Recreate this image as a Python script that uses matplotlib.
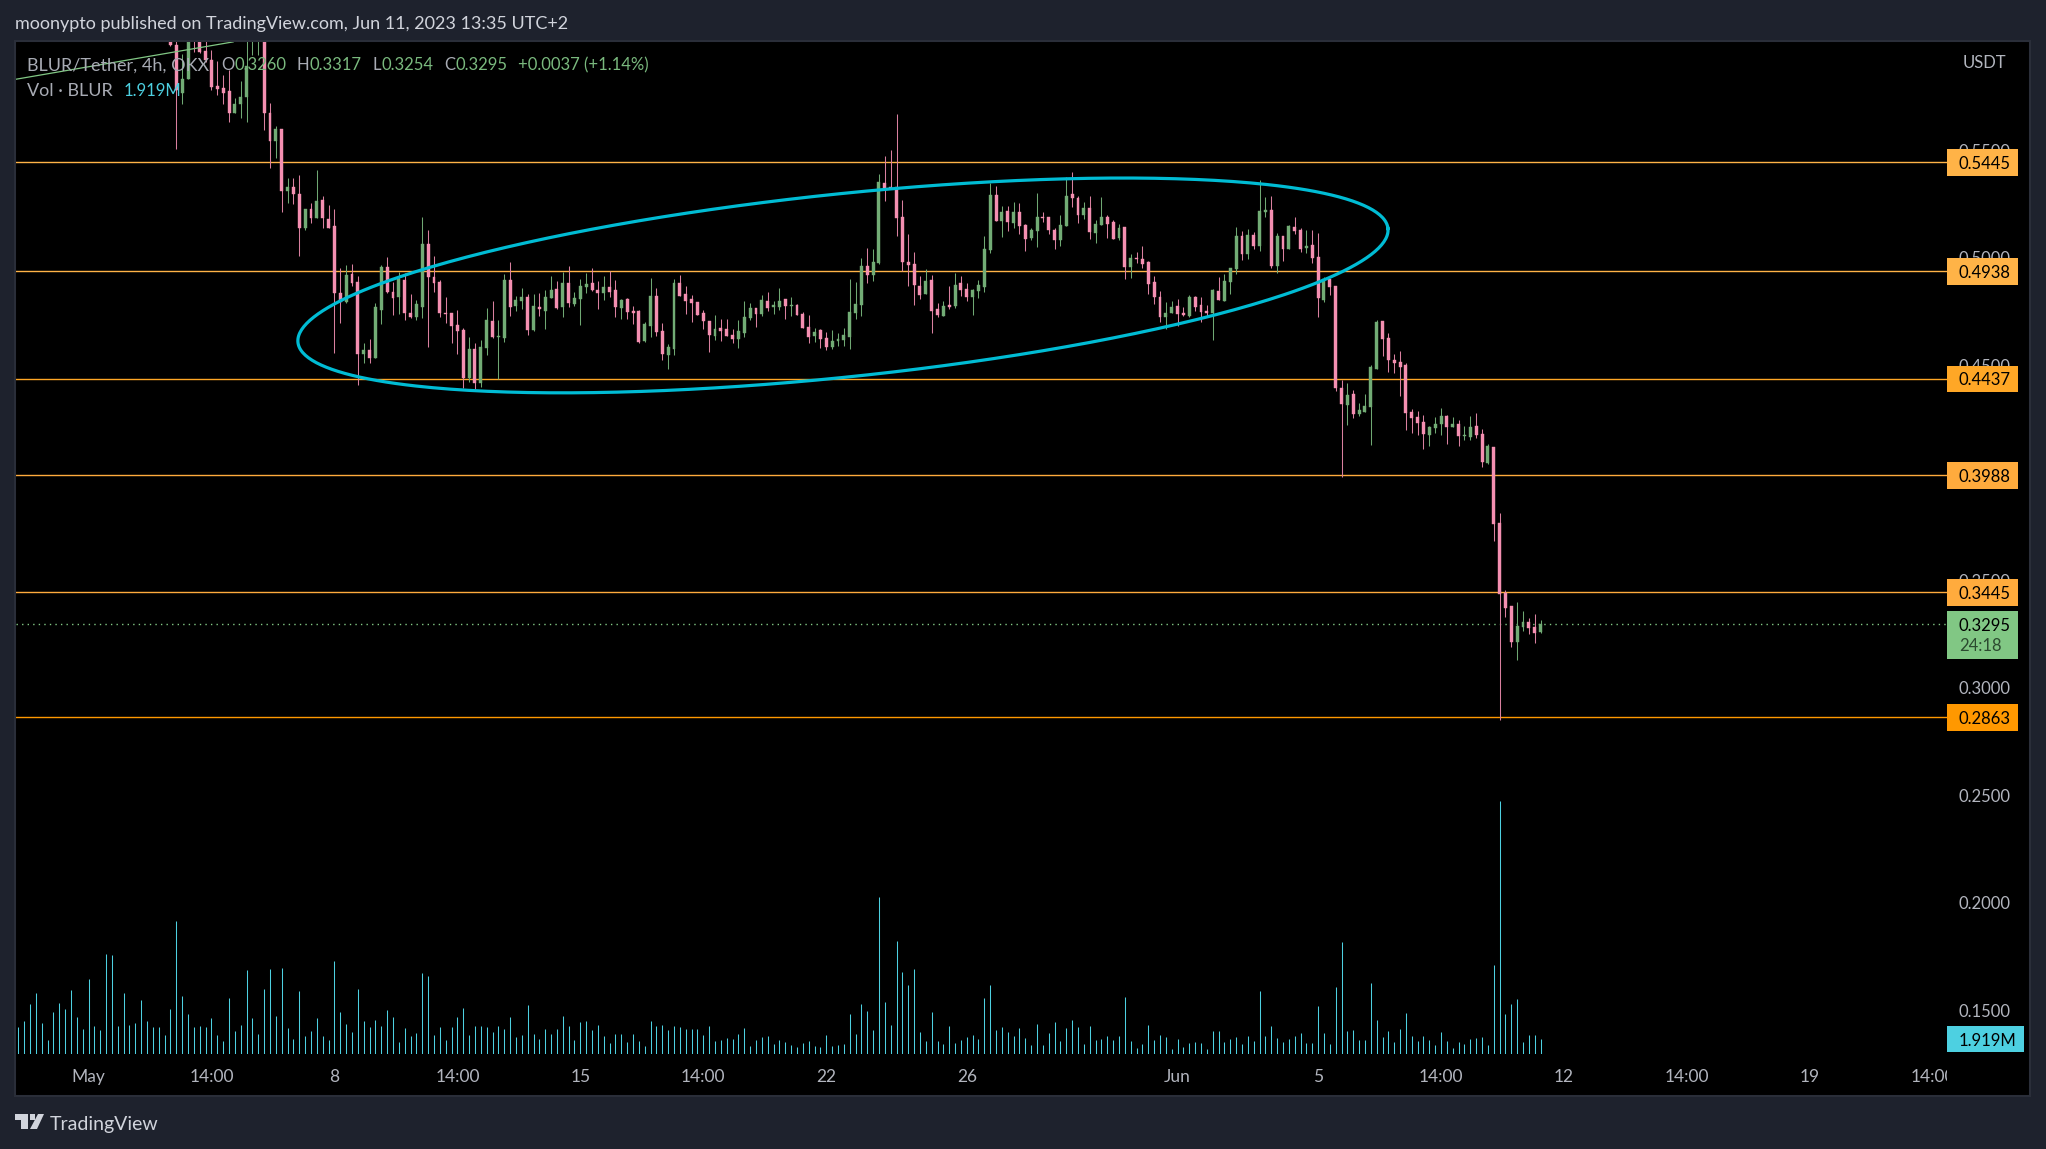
import numpy as np
import matplotlib
matplotlib.use('Agg')
import matplotlib.pyplot as plt
from matplotlib.patches import Rectangle, Polygon

# candles only start at bar 26, everything before sits above the visible range
candle_start = 26
opens = [
 .6100,.5989,.5769,.5831,.6080,.6030,.5962,.5920,.5800,.5791,
 .5776,.5672,.5714,.5749,.6020,.6030,.6040,.5675,.5545,.5599,
 .5312,.5331,.5297,.5140,.5227,.5184,.5270,.5182,.5149,.4838,
 .4796,.4926,.4889,.4551,.4573,.4536,.4759,.4959,.4843,.4819,
 .4898,.4742,.4726,.4773,.5066,.4912,.4889,.4745,.4745,.4689,
 .4666,
 .4442,.4577,.4419,.4582,.4707,.4633,.4628,.4898,.4777,.4800,
 .4819,.4666,.4772,.4754,.4814,.4856,.4772,.4884,.4786,.4810,
 .4865,.4884,.4851,.4838,.4865,.4851,.4768,.4810,.4754,.4754,
 .4614,.4684,.4824,.4661,.4549,.4577,.4884,.4833,.4810,.4796,
 .4745,.4707,.4638,.4675,.4670,.4642,.4624,.4652,.4721,.4768,
 .4740,
 .4800,.4772,.4772,.4810,.4777,.4782,.4740,.4679,.4638,.4665,
 .4628,.4586,.4614,.4619,.4633,.4745,.4782,.4963,.4921,.4977,
 .5349,.5330,.5330,.5191,.4982,.4972,.4870,.4833,.4898,.4763,
 .4731,.4782,.4777,.4884,.4856,.4819,.4847,.4865,.5038,.5293,
 .5172,.5219,.5163,.5214,.5154,.5093,.5126,.5191,.5191,.5131,
 .5084,
 .5149,.5298,.5279,.5200,.5233,.5117,.5154,.5191,.5168,.5093,
 .5144,.4958,.5000,.4996,.4982,.4889,.4819,.4726,.4745,.4777,
 .4745,.4731,.4819,.4782,.4754,.4745,.4847,.4800,.4889,.4949,
 .5103,.5019,.5107,.5056,.5214,.5224,.4963,.5103,.5042,.5144,
 .5131,.5047,.5061,.5005,.4805,.4903,
 .4870,.4396,.4317,.4368,.4275,.4284,.4307,.4484,.4707,.4628,
 .4526,.4517,.4503,.4284,.4261,.4238,.4177,.4210,.4228,.4266,
 .4215,.4228,.4173,.4168,.4219,.4182,.4047,.4121,.3768,.3443,
 .3382,.3215,.3284,.3308,.3284,.3260]
highs = [
 .6150,.6010,.5950,.6120,.6120,.6080,.6015,.5966,.5915,.5850,
 .5873,.5745,.5822,.6040,.6120,.6120,.6080,.5721,.5614,.5599,
 .5373,.5373,.5385,.5227,.5256,.5408,.5289,.5245,.5227,.4954,
 .4966,.4973,.4915,.4604,.4622,.4791,.4966,.5004,.4889,.4935,
 .4928,.4833,.4802,.5191,.5131,.5010,.4895,.4819,.4745,.4759,
 .4675,
 .4634,.4605,.4619,.4765,.4800,.4712,.4926,.4982,.4824,.4861,
 .4833,.4833,.4838,.4851,.4917,.4893,.4935,.4963,.4842,.4903,
 .4930,.4954,.4893,.4917,.4940,.4898,.4810,.4814,.4777,.4758,
 .4703,.4907,.4861,.4698,.4600,.4903,.4921,.4870,.4828,.4796,
 .4758,.4707,.4735,.4717,.4717,.4670,.4712,.4800,.4791,.4768,
 .4828,
 .4842,.4800,.4861,.4810,.4819,.4786,.4749,.4735,.4675,.4670,
 .4656,.4665,.4652,.4675,.4903,.4889,.5000,.5047,.5042,.5391,
 .5475,.5502,.5670,.5270,.5112,.5028,.4917,.4949,.4921,.4791,
 .4800,.4870,.4931,.4917,.4884,.4856,.4898,.5103,.5349,.5335,
 .5242,.5242,.5261,.5256,.5158,.5140,.5303,.5214,.5191,.5140,
 .5200,
 .5377,.5400,.5289,.5261,.5289,.5177,.5284,.5200,.5177,.5158,
 .5144,.5019,.5028,.5056,.4987,.4917,.4847,.4796,.4800,.4810,
 .4773,.4828,.4824,.4819,.4782,.4856,.4912,.4926,.4954,.5144,
 .5126,.5135,.5121,.5363,.5284,.5289,.5117,.5103,.5154,.5191,
 .5140,.5131,.5131,.5117,.4912,.4903,
 .4870,.4433,.4419,.4387,.4326,.4368,.4503,.4712,.4707,.4652,
 .4554,.4568,.4512,.4298,.4289,.4270,.4219,.4261,.4303,.4270,
 .4261,.4247,.4219,.4266,.4280,.4205,.4135,.4121,.3815,.3457,
 .3382,.3401,.3359,.3326,.3345,.3317]
lows = [
 .5985,.5506,.5718,.5831,.5958,.5955,.5912,.5780,.5757,.5718,
 .5633,.5672,.5652,.5633,.5943,.5943,.5594,.5419,.5466,.5215,
 .5256,.5253,.5010,.5132,.5163,.5184,.5137,.5137,.4559,.4698,
 .4788,.4870,.4409,.4512,.4509,.4536,.4691,.4839,.4734,.4740,
 .4709,.4722,.4709,.4722,.4587,.4843,.4726,.4695,.4602,.4554,
 .4393,
 .4421,.4391,.4400,.4549,.4628,.4438,.4610,.4731,.4754,.4763,
 .4642,.4661,.4731,.4670,.4814,.4763,.4726,.4772,.4777,.4689,
 .4838,.4847,.4763,.4805,.4819,.4726,.4717,.4717,.4693,.4605,
 .4610,.4633,.4638,.4526,.4484,.4549,.4824,.4740,.4703,.4735,
 .4670,.4563,.4619,.4614,.4638,.4605,.4582,.4633,.4712,.4679,
 .4731,
 .4754,.4740,.4759,.4717,.4731,.4735,.4675,.4605,.4610,.4582,
 .4573,.4577,.4591,.4591,.4577,.4717,.4731,.4884,.4893,.4972,
 .5265,.5326,.5103,.4938,.4870,.4782,.4810,.4833,.4652,.4726,
 .4731,.4763,.4768,.4824,.4800,.4735,.4814,.4842,.5024,.5172,
 .5098,.5126,.5140,.5112,.5033,.5084,.5051,.5168,.5112,.5042,
 .5056,
 .5149,.5237,.5163,.5182,.5089,.5070,.5154,.5093,.5089,.5084,
 .4903,.4907,.4977,.4954,.4833,.4786,.4703,.4670,.4745,.4684,
 .4731,.4726,.4754,.4703,.4731,.4619,.4805,.4800,.4833,.4926,
 .4991,.4996,.5042,.5033,.5191,.4954,.4931,.4987,.5042,.5112,
 .5028,.5023,.4977,.4726,.4796,.4828,
 .4382,.3983,.4224,.4256,.4266,.4284,.4131,.4484,.4545,.4470,
 .4466,.4359,.4201,.4187,.4177,.4112,.4126,.4187,.4177,.4135,
 .4215,.4126,.4154,.4154,.4163,.4028,.4043,.3684,.2852,.3331,
 .3191,.3131,.3266,.3252,.3210,.3254]
closes = [
 .5989,.5780,.5834,.6050,.6030,.5958,.5920,.5796,.5785,.5769,
 .5672,.5717,.5749,.5893,.6060,.6080,.5672,.5545,.5602,.5312,
 .5331,.5297,.5140,.5227,.5184,.5266,.5184,.5140,.4835,.4796,
 .4922,.4884,.4551,.4573,.4536,.4771,.4959,.4843,.4815,.4901,
 .4742,.4726,.4787,.5066,.4909,.4884,.4745,.4740,.4684,.4661,
 .4443,
 .4577,.4419,.4586,.4712,.4633,.4638,.4898,.4772,.4805,.4819,
 .4666,.4777,.4763,.4819,.4851,.4768,.4884,.4791,.4814,.4870,
 .4879,.4851,.4838,.4865,.4842,.4772,.4805,.4749,.4745,.4610,
 .4693,.4824,.4656,.4554,.4586,.4884,.4824,.4800,.4791,.4735,
 .4707,.4642,.4670,.4661,.4638,.4624,.4661,.4726,.4768,.4740,
 .4805,
 .4768,.4782,.4800,.4777,.4782,.4735,.4675,.4633,.4656,.4624,
 .4586,.4614,.4624,.4642,.4749,.4786,.4963,.4921,.4982,.5354,
 .5326,.5326,.5186,.4982,.4968,.4875,.4828,.4893,.4754,.4735,
 .4777,.4772,.4875,.4852,.4819,.4852,.4875,.5042,.5293,.5172,
 .5214,.5168,.5214,.5149,.5089,.5131,.5191,.5186,.5131,.5084,
 .5154,
 .5289,.5279,.5200,.5233,.5121,.5158,.5191,.5158,.5089,.5140,
 .4958,.5000,.4996,.4972,.4880,.4819,.4726,.4745,.4773,.4740,
 .4735,.4819,.4773,.4749,.4745,.4852,.4805,.4893,.4954,.5103,
 .5019,.5107,.5056,.5219,.5224,.4963,.5103,.5042,.5149,.5126,
 .5042,.5056,.5000,.4814,.4903,.4866,
 .4396,.4321,.4363,.4275,.4293,.4312,.4493,.4703,.4624,.4526,
 .4512,.4493,.4280,.4256,.4233,.4182,.4215,.4228,.4266,.4215,
 .4228,.4173,.4177,.4215,.4177,.4052,.4126,.3763,.3438,.3373,
 .3215,.3289,.3308,.3280,.3257,.3295]

# volume per bar, millions of BLUR
volume = [
 3.53,4.32,6.54,7.98,4.05,1.83,5.49,6.67,5.89,8.37,
 4.84,3.27,9.81,3.66,3.14,13.08,12.95,3.66,7.98,3.79,
 4.05,7.06,4.32,3.53,3.53,2.49,5.89,17.40,7.59,5.23,
 3.53,3.66,3.53,4.71,2.49,1.70,7.32,3.01,3.79,10.99,
 4.71,2.62,8.50,11.12,4.97,11.25,3.40,1.96,8.24,2.35,
 3.01,4.71,2.35,1.83,12.16,5.49,3.92,2.88,8.50,4.32,
 3.53,4.45,3.66,5.76,4.84,1.57,3.40,2.35,2.75,10.59,
 10.20,2.49,3.53,1.83,3.53,4.84,6.02,2.49,3.66,3.66,
 3.53,2.88,3.66,3.27,4.84,2.22,2.49,6.41,2.62,1.96,
 3.27,2.62,3.27,4.97,3.66,1.83,4.19,4.32,3.14,3.79,
 2.35,1.44,2.62,2.62,1.57,2.62,1.70,1.05,4.32,3.66,
 3.79,3.14,3.66,3.53,3.27,3.27,3.27,
 2.49,3.66,1.70,1.83,2.09,1.96,2.62,3.40,1.05,1.83,
 2.22,2.35,1.31,1.83,1.57,1.18,0.92,1.44,1.70,1.05,
 0.92,2.49,1.05,1.18,1.31,5.23,2.62,6.54,5.62,3.14,
 20.54,6.80,3.79,14.78,10.73,9.03,11.12,2.88,1.70,5.49,
 1.70,1.31,3.66,1.44,1.83,2.22,2.49,1.96,7.32,9.03,
 3.14,3.53,2.88,2.35,3.40,2.09,1.18,3.92,1.18,2.75,
 4.19,1.70,3.40,4.45,3.53,1.31,3.66,1.83,1.96,2.35,
 1.83,2.35,7.46,1.70,0.78,1.31,3.79,1.83,2.49,2.22,
 0.65,1.96,0.92,1.44,1.57,1.44,0.65,3.01,3.01,1.57,
 1.96,2.22,1.31,2.35,1.70,8.24,2.35,3.66,2.09,1.57,
 1.96,2.35,
 2.75,1.44,1.44,6.28,2.75,1.31,8.76,14.65,3.01,3.14,
 1.83,1.83,9.29,4.45,2.22,3.01,1.57,3.27,5.36,2.35,
 1.70,2.35,1.83,1.18,2.88,1.70,0.78,1.57,1.31,1.96,
 2.09,2.22,1.18,11.64,33.09,5.23,6.54,7.19,1.57,2.49,
 2.49,1.919]

levels = [0.5445, 0.4938, 0.4437, 0.3988, 0.3445, 0.2863]
level_colors = ['#ffb347', '#ffb347', '#ffa726', '#ffab3d', '#ffab3d', '#ff9800']
last_price = 0.3295

price_ticks = [0.55, 0.50, 0.45, 0.35, 0.30, 0.25, 0.20, 0.15]
time_ticks = [12, 33, 54, 75, 96, 117, 138, 162, 198, 222, 243, 264, 285, 306, 327]
time_labels = ['May', '14:00', '8', '14:00', '15', '14:00', '22', '26', 'Jun', '5',
               '14:00', '12', '14:00', '19', '14:00']

# ellipse drawing: centre and two conjugate half axes (bars, price)
ell_center = (140.85, 0.4872)
ell_a = (93.08, 0.0265)
ell_b = (-1.63, 0.04236)
# old trend line poking in top left
trend_x = [-0.45, 36.7]
trend_y = [0.5831, 0.6005]

W, H = 2046, 1149
BG = '#1e222d'
GREY = '#b2b5be'
GREEN = '#81c784'
PINK = '#f48fb1'
CYAN = '#4dd0e1'
FONT = 'Lato'
plt.rcParams['font.family'] = [FONT, 'DejaVu Sans']


def fx(x):
    return x / W


def fy(y):
    return 1 - y / H


fig = plt.figure(figsize=(W / 100, H / 100), dpi=100, facecolor=BG)

# black pane behind everything
fig.patches.append(Rectangle((fx(14.5), fy(1096)), fx(2030 - 14.5), (1096 - 41) / H, transform=fig.transFigure,
                             facecolor='black', edgecolor='#2a2e39', lw=1.5, zorder=-1, figure=fig))

rect = [fx(15.5), fy(1054), fx(1947 - 15.5), (1054 - 42) / H]
ax_vol = fig.add_axes(rect, facecolor='none', zorder=1)
ax = fig.add_axes(rect, facecolor='none', zorder=2)
ax.set_xlim(-0.47, 329.41)
ax_vol.set_xlim(-0.47, 329.41)
ax.set_ylim(0.12965, 0.60045)
ax_vol.set_ylim(0, 132.4)
ax_vol.set_axis_off()

for s in ax.spines.values():
    s.set_visible(False)
ax.yaxis.tick_right()
ax.set_yticks(price_ticks)
ax.set_yticklabels(['%.4f' % p for p in price_ticks])
ax.set_xticks(time_ticks)
ax.set_xticklabels(time_labels)
ax.tick_params(axis='y', length=0, pad=8.6, labelsize=12, labelcolor=GREY)
ax.tick_params(axis='x', length=0, pad=10.8, labelsize=12.5, labelcolor=GREY)

# volume
ax_vol.vlines(np.arange(len(volume)), 0, volume, color=CYAN, lw=0.75)

# levels
for lv, col in zip(levels, level_colors):
    ax.axhline(lv, color=col, lw=1.0, zorder=2)
ax.axhline(last_price, color=GREEN, lw=1.0, ls=(0, (1, 3)), zorder=2)

# candles
idx = candle_start + np.arange(len(opens))
o = np.array(opens)
hi = np.array(highs)
lo = np.array(lows)
c = np.array(closes)
up = c >= o
wick_cols = np.where(up, '#6fa873', '#d9809f')
body_cols = np.where(up, '#72ac75', PINK)
ax.vlines(idx, lo, hi, colors=wick_cols, lw=0.75, zorder=3)
ax.bar(idx, np.abs(c - o), bottom=np.minimum(o, c), width=0.5, color=body_cols,
       edgecolor=body_cols, lw=0.3, zorder=4)

# drawings
t = np.linspace(0, 2 * np.pi, 400)
ax.plot(ell_center[0] + ell_a[0] * np.cos(t) + ell_b[0] * np.sin(t),
        ell_center[1] + ell_a[1] * np.cos(t) + ell_b[1] * np.sin(t),
        color='#00bcd4', lw=2.3, zorder=5)
ax.plot(trend_x, trend_y, color=GREEN, lw=0.9, zorder=5)

# price scale labels
box_w = 71 / 1931.5
dy = 0.00623
trans = ax.get_yaxis_transform()
for lv, col in zip(levels, level_colors):
    ax.add_patch(Rectangle((1, lv - dy), box_w, 2 * dy, transform=trans, clip_on=False,
                           facecolor=col, edgecolor='none', zorder=6))
    ax.text(1 + 12 / 1931.5, lv, '%.4f' % lv, transform=trans, color='black', fontsize=12,
            va='center_baseline', ha='left', zorder=7, clip_on=False)
ax.add_patch(Rectangle((1, 0.3295 - 0.0160), box_w, 0.0224, transform=trans, clip_on=False,
                       facecolor=GREEN, edgecolor='none', zorder=6))
ax.text(1 + 12 / 1931.5, last_price, '%.4f' % last_price, transform=trans, color='black', fontsize=12,
        va='center_baseline', ha='left', zorder=7, clip_on=False)
ax.text(1 + 12 / 1931.5, last_price - 0.0094, '24:18', transform=trans, color='#2c4a30', fontsize=12,
        va='center_baseline', ha='left', zorder=7, clip_on=False)
# last volume tag
tv = ax_vol.get_yaxis_transform()
ax_vol.add_patch(Rectangle((1, volume[-1] - 1.72), 77 / 1931.5, 3.44, transform=tv, clip_on=False,
                           facecolor=CYAN, edgecolor='none', zorder=6))
ax_vol.text(1 + 12 / 1931.5, volume[-1], '1.919M', transform=tv, color='black', fontsize=12,
            va='center_baseline', ha='left', zorder=7, clip_on=False)

# hides the cut off part of the last time label
fig.patches.append(Rectangle((fx(1947), fy(1092)), fx(80), 32 / H, transform=fig.transFigure,
                             facecolor='black', edgecolor='none', zorder=5, figure=fig))


def run(x, y, pieces, size=12):
    # row of differently coloured texts, each one starts where the last one ended
    r = fig.canvas.get_renderer()
    for s, col in pieces:
        tx = fig.text(fx(x), fy(y), s, color=col, fontsize=size, va='center_baseline', zorder=8)
        x = tx.get_window_extent(r).x1


fig.text(fx(15), fy(23), 'moonypto published on TradingView.com, Jun 11, 2023 13:35 UTC+2',
         color='#d1d4dc', fontsize=13, va='center_baseline')
fig.text(fx(1963), fy(61), 'USDT', color=GREY, fontsize=12, va='center_baseline')

LEG_GREY = '#a8abb4'
LEG_GREEN = '#7ab97e'
run(27, 64, [('BLUR/Tether, 4h, OKX', LEG_GREY)], size=13)
run(221, 64, [('O', LEG_GREY), ('0.3260', LEG_GREEN)])
run(297, 64, [('H', LEG_GREY), ('0.3317', LEG_GREEN)])
run(373, 64, [('L', LEG_GREY), ('0.3254', LEG_GREEN)])
run(444, 64, [('C', LEG_GREY), ('0.3295', LEG_GREEN)])
run(518, 64, [('+0.0037 (+1.14%)', LEG_GREEN)])
run(27, 90, [('Vol · BLUR', LEG_GREY)], size=13)
run(124, 90, [('1.919M', CYAN)])

# footer logo and name
LOGO = '#d1d4dc'
for pts in ([(15, 1114), (28, 1114), (28, 1129), (21, 1129), (21, 1120), (15, 1120)],
            [(38, 1114), (44, 1114), (37, 1129), (30, 1129)]):
    fig.patches.append(Polygon([(fx(a), fy(b)) for a, b in pts], transform=fig.transFigure,
                               facecolor=LOGO, edgecolor='none', figure=fig, zorder=8))
fig.patches.append(Rectangle((fx(29.5), fy(1120)), fx(5.5), 6 / H, transform=fig.transFigure,
                             facecolor=LOGO, edgecolor='none', figure=fig, zorder=8))
fig.text(fx(50), fy(1123), 'TradingView', color=LOGO, fontsize=14, va='center_baseline')

fig.savefig('out.png', dpi=100, facecolor=BG)
